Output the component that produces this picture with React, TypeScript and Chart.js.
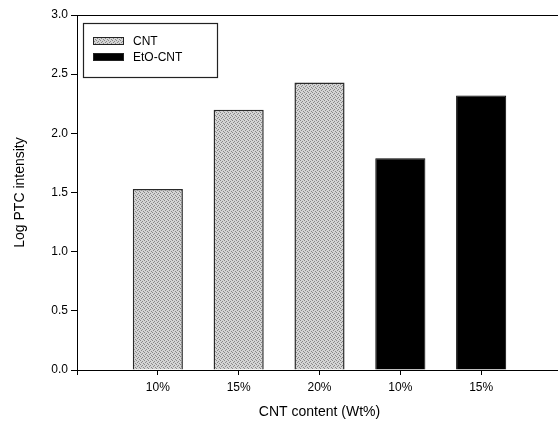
import React, { useEffect, useRef } from "react";
import { Chart, registerables } from "chart.js";

Chart.register(...registerables);

const categories = ["10%", "15%", "20%", "10%", "15%"];
const cntValues = [1.53, 2.2, 2.43];
const etoValues = [1.79, 2.32];
const seriesNames = ["CNT", "EtO-CNT"];
const yTicks = [0, 0.5, 1.0, 1.5, 2.0, 2.5, 3.0];

const FONT = "'Liberation Sans', Arial, sans-serif";

function makePattern(): CanvasPattern | string {
  const c = document.createElement("canvas");
  c.width = 4;
  c.height = 4;
  const ctx = c.getContext("2d");
  if (!ctx) return "#c5c5c5";
  ctx.fillStyle = "#d4d4d4";
  ctx.fillRect(0, 0, 4, 4);
  ctx.fillStyle = "#888888";
  [[0, 0], [2, 1], [1, 2], [3, 3]].forEach(([x, y]) => ctx.fillRect(x, y, 1, 1));
  const p = ctx.createPattern(c, "repeat");
  return p || "#c5c5c5";
}

export default function App() {
  const ref = useRef<HTMLCanvasElement | null>(null);

  useEffect(() => {
    if (!ref.current) return;
    const pattern = makePattern();
    const labels = ["", ...categories, ""];
    const lastIdx = labels.length - 1;
    const cntData: (number | null)[] = labels.map(() => null);
    const etoData: (number | null)[] = labels.map(() => null);
    cntValues.forEach((v, i) => (cntData[i + 1] = v));
    etoValues.forEach((v, i) => (etoData[i + 1 + cntValues.length] = v));

    const frame = {
      id: "frameAndLegend",
      afterDraw(chart: any) {
        const { ctx, chartArea } = chart;
        ctx.save();
        ctx.strokeStyle = "#000";
        ctx.lineWidth = 1;
        ctx.beginPath();
        ctx.moveTo(chartArea.left, chartArea.top + 0.5);
        ctx.lineTo(chartArea.right + 10, chartArea.top + 0.5);
        ctx.stroke();
        const lx = chartArea.left + 6;
        const ly = chartArea.top + 8;
        ctx.lineWidth = 1.2;
        ctx.strokeStyle = "#222";
        ctx.strokeRect(lx + 0.5, ly + 0.5, 134, 54);
        const ds = chart.data.datasets;
        ds.forEach((d: any, i: number) => {
          const sy = ly + 14 + i * 16;
          ctx.fillStyle = d.backgroundColor;
          ctx.fillRect(lx + 10, sy, 31, 8);
          ctx.strokeStyle = "#222";
          ctx.lineWidth = 1;
          ctx.strokeRect(lx + 10.5, sy + 0.5, 30, 7);
          ctx.fillStyle = "#000";
          ctx.font = `12px ${FONT}`;
          ctx.textBaseline = "middle";
          ctx.textAlign = "left";
          ctx.fillText(d.label, lx + 50, sy + 4.5);
        });
        ctx.restore();
      },
    };

    const chart = new Chart(ref.current, {
      type: "bar",
      data: {
        labels,
        datasets: [
          {
            label: seriesNames[0],
            data: cntData,
            backgroundColor: pattern as any,
            borderColor: "#2a2a2a",
            borderWidth: 1.5,
            borderSkipped: "start",
          },
          {
            label: seriesNames[1],
            data: etoData,
            backgroundColor: "#000",
            borderColor: "#000",
            borderWidth: 1,
          },
        ],
      },
      options: {
        responsive: false,
        animation: false,
        layout: { padding: { top: 15, right: 0, left: 0, bottom: 0 } },
        datasets: { bar: { grouped: false, barPercentage: 0.62, categoryPercentage: 1 } },
        plugins: { legend: { display: false }, tooltip: { enabled: false } },
        scales: {
          x: {
            offset: false,
            grid: {
              drawOnChartArea: false,
              tickLength: 5,
              offset: false,
              color: (c: any) => (c.index === lastIdx ? "rgba(0,0,0,0)" : "#000"),
            },
            border: { color: "#000", width: 1 },
            ticks: { color: "#000", font: { family: FONT, size: 12 }, padding: 5, maxRotation: 0, autoSkip: false },
            title: { display: true, text: "CNT content (Wt%)", color: "#000", font: { family: FONT, size: 14 }, padding: { top: 0, bottom: 7 } },
            afterFit: (s: any) => { s.height = 58; },
          },
          y: {
            min: 0,
            max: 3,
            afterBuildTicks: (s: any) => { s.ticks = yTicks.map((v) => ({ value: v })); },
            grid: { drawOnChartArea: false, color: "#000", tickLength: 6 },
            border: { color: "#000", width: 1 },
            ticks: { color: "#000", font: { family: FONT, size: 12 }, padding: 3, callback: (v: any) => Number(v).toFixed(1) },
            title: { display: true, text: "Log PTC intensity", color: "#000", font: { family: FONT, size: 14 }, padding: { top: 12, bottom: 0 } },
            afterFit: (s: any) => { s.width = 77; },
          },
        },
      },
      plugins: [frame],
    });
    return () => chart.destroy();
  }, []);

  return (
    <div style={{ position: "fixed", left: 0, top: 0, width: 558, height: 428, overflow: "hidden", background: "#fff" }}>
      <canvas ref={ref} width={567} height={428} />
    </div>
  );
}
